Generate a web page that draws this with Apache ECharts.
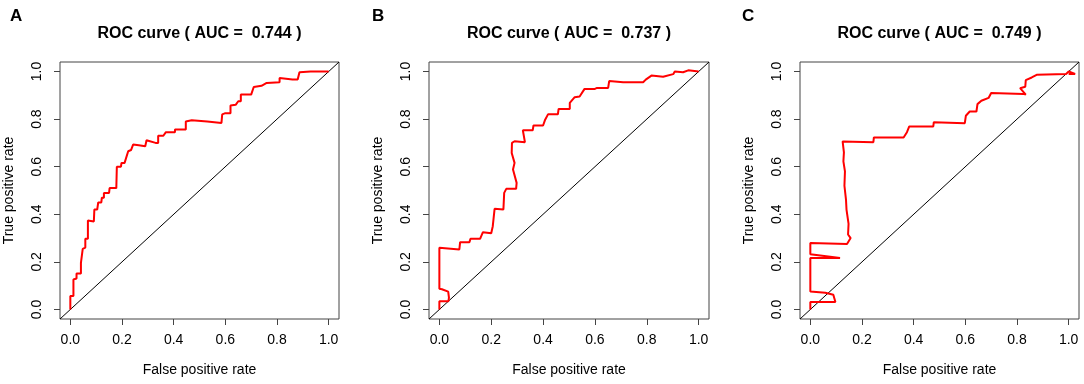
<!DOCTYPE html>
<html>
<head>
<meta charset="utf-8">
<script src="https://cdn.jsdelivr.net/npm/echarts@6/dist/echarts.min.js"></script>
<style>
  html, body { margin: 0; padding: 0; background: #fff; }
  #chart { width: 1084px; height: 384px; }
</style>
</head>
<body>
<div id="chart"></div>
<script>
// panel labels and titles
const panels = ['A', 'B', 'C']
const aucs = ['0.744', '0.737', '0.749']
const tickValues = [0, 0.2, 0.4, 0.6, 0.8, 1.0]
const diag = [-0.04, 1.04]

// ROC curve A
const fprA = [0, 0, 0.012, 0.012, 0.024, 0.024, 0.041, 0.041, 0.048, 0.048, 0.058, 0.058, 0.068, 0.068, 0.091, 0.093, 0.104, 0.108, 0.12, 0.122, 0.13, 0.13, 0.15, 0.152, 0.178, 0.18, 0.196, 0.198, 0.21, 0.224, 0.235, 0.243, 0.265, 0.29, 0.295, 0.33, 0.34, 0.34, 0.36, 0.37, 0.405, 0.405, 0.447, 0.447, 0.47, 0.53, 0.585, 0.588, 0.6, 0.62, 0.62, 0.64, 0.65, 0.66, 0.66, 0.7, 0.71, 0.74, 0.76, 0.81, 0.81, 0.86, 0.88, 0.887, 0.93, 1.0]
const tprA = [0, 0.057, 0.057, 0.126, 0.13, 0.151, 0.151, 0.196, 0.196, 0.255, 0.26, 0.297, 0.297, 0.374, 0.37, 0.42, 0.42, 0.45, 0.45, 0.47, 0.47, 0.49, 0.49, 0.51, 0.51, 0.6, 0.6, 0.616, 0.616, 0.665, 0.67, 0.693, 0.69, 0.686, 0.711, 0.7, 0.7, 0.73, 0.73, 0.745, 0.745, 0.756, 0.756, 0.79, 0.795, 0.79, 0.784, 0.82, 0.825, 0.825, 0.857, 0.86, 0.875, 0.875, 0.903, 0.903, 0.935, 0.94, 0.952, 0.955, 0.973, 0.966, 0.966, 0.997, 1.0, 1.0]

// ROC curve B
const fprB = [0, 0, 0.035, 0.037, 0.034, 0.01, 0, 0, 0.077, 0.08, 0.116, 0.12, 0.157, 0.168, 0.2, 0.206, 0.213, 0.247, 0.25, 0.258, 0.296, 0.298, 0.284, 0.29, 0.279, 0.28, 0.29, 0.33, 0.322, 0.36, 0.363, 0.4, 0.407, 0.419, 0.457, 0.46, 0.503, 0.503, 0.522, 0.541, 0.56, 0.6, 0.608, 0.651, 0.655, 0.709, 0.786, 0.796, 0.818, 0.863, 0.902, 0.908, 0.94, 0.96, 1.0]
const tprB = [0, 0.035, 0.035, 0.05, 0.075, 0.085, 0.087, 0.259, 0.252, 0.283, 0.283, 0.297, 0.297, 0.325, 0.32, 0.35, 0.423, 0.42, 0.49, 0.507, 0.507, 0.532, 0.588, 0.616, 0.658, 0.7, 0.707, 0.703, 0.753, 0.753, 0.773, 0.773, 0.795, 0.82, 0.82, 0.843, 0.843, 0.868, 0.892, 0.895, 0.927, 0.927, 0.931, 0.931, 0.96, 0.955, 0.955, 0.966, 0.983, 0.978, 0.989, 1.0, 0.997, 1.005, 1.0]

// ROC curve C
const fprC = [0, 0, 0.097, 0.104, 0.089, 0.058, 0, 0, 0.115, 0, 0, 0.142, 0.156, 0.146, 0.148, 0.14, 0.138, 0.132, 0.134, 0.128, 0.13, 0.125, 0.244, 0.246, 0.361, 0.374, 0.383, 0.476, 0.478, 0.598, 0.602, 0.617, 0.643, 0.647, 0.662, 0.69, 0.7, 0.825, 0.834, 0.812, 0.832, 0.834, 0.857, 0.876, 0.99, 1.0, 1.025, 1.0]
const tprC = [0, 0.031, 0.031, 0.036, 0.062, 0.07, 0.076, 0.216, 0.216, 0.232, 0.279, 0.275, 0.3, 0.315, 0.36, 0.42, 0.462, 0.52, 0.58, 0.622, 0.66, 0.706, 0.703, 0.723, 0.723, 0.745, 0.769, 0.769, 0.787, 0.783, 0.814, 0.832, 0.832, 0.863, 0.877, 0.889, 0.91, 0.906, 0.903, 0.93, 0.936, 0.964, 0.975, 0.986, 0.99, 1.0, 0.99, 0.99]

const curves = [[fprA, tprA], [fprB, tprB], [fprC, tprC]]

const gridLefts = [60, 429, 800]
const gridWidths = [279, 280, 279]
const letterLefts = [10, 372, 742]
const fontFamily = "'Liberation Sans', Arial, sans-serif"

const chart = echarts.init(document.getElementById('chart'))

const grids = [], xAxes = [], yAxes = [], series = [], titles = []

panels.forEach((p, i) => {
  grids.push({
    left: gridLefts[i], top: 62, width: gridWidths[i], height: 257,
    show: true, borderColor: '#444', borderWidth: 1, backgroundColor: 'transparent',
  })
  const axisCommon = {
    type: 'value', gridIndex: i, min: -0.04, max: 1.04,
    splitLine: { show: false },
    axisLine: { show: false, onZero: false },
    axisTick: { show: true, length: 6, customValues: tickValues, lineStyle: { color: '#444' } },
    nameLocation: 'middle',
    nameMoveOverlap: false,
    nameGap: 44,
    nameTextStyle: { fontSize: 14, color: '#000', fontFamily },
  }
  xAxes.push({
    ...axisCommon,
    name: 'False positive rate',
    axisLabel: { customValues: tickValues, margin: 14, fontSize: 14, color: '#000', fontFamily, formatter: v => v.toFixed(1) },
  })
  yAxes.push({
    ...axisCommon,
    name: 'True positive rate',
    nameRotate: 90,
    axisLabel: { customValues: tickValues, margin: 16, rotate: 90, fontSize: 14, color: '#000', fontFamily, formatter: v => v.toFixed(1) },
  })
  series.push({
    type: 'line', xAxisIndex: i, yAxisIndex: i, symbol: 'none', silent: true,
    data: diag.map(v => [v, v]),
    lineStyle: { color: '#000', width: 1 },
  })
  const [fpr, tpr] = curves[i]
  series.push({
    type: 'line', xAxisIndex: i, yAxisIndex: i, symbol: 'none', silent: true,
    data: fpr.map((x, k) => [x, tpr[k]]),
    lineStyle: { color: '#ff0000', width: 2 },
  })
  titles.push({
    text: 'ROC curve ( AUC =  ' + aucs[i] + ' )',
    left: gridLefts[i] + gridWidths[i] / 2, top: 26, textAlign: 'center', padding: 0,
    textStyle: { fontSize: 16, fontWeight: 'bold', color: '#000', fontFamily },
  })
  titles.push({
    text: p,
    left: letterLefts[i], top: 8, padding: 0,
    textStyle: { fontSize: 17, fontWeight: 'bold', color: '#000', fontFamily },
  })
})

chart.setOption({
  animation: false,
  backgroundColor: '#fff',
  title: titles,
  grid: grids,
  xAxis: xAxes,
  yAxis: yAxes,
  series,
})
</script>
</body>
</html>
